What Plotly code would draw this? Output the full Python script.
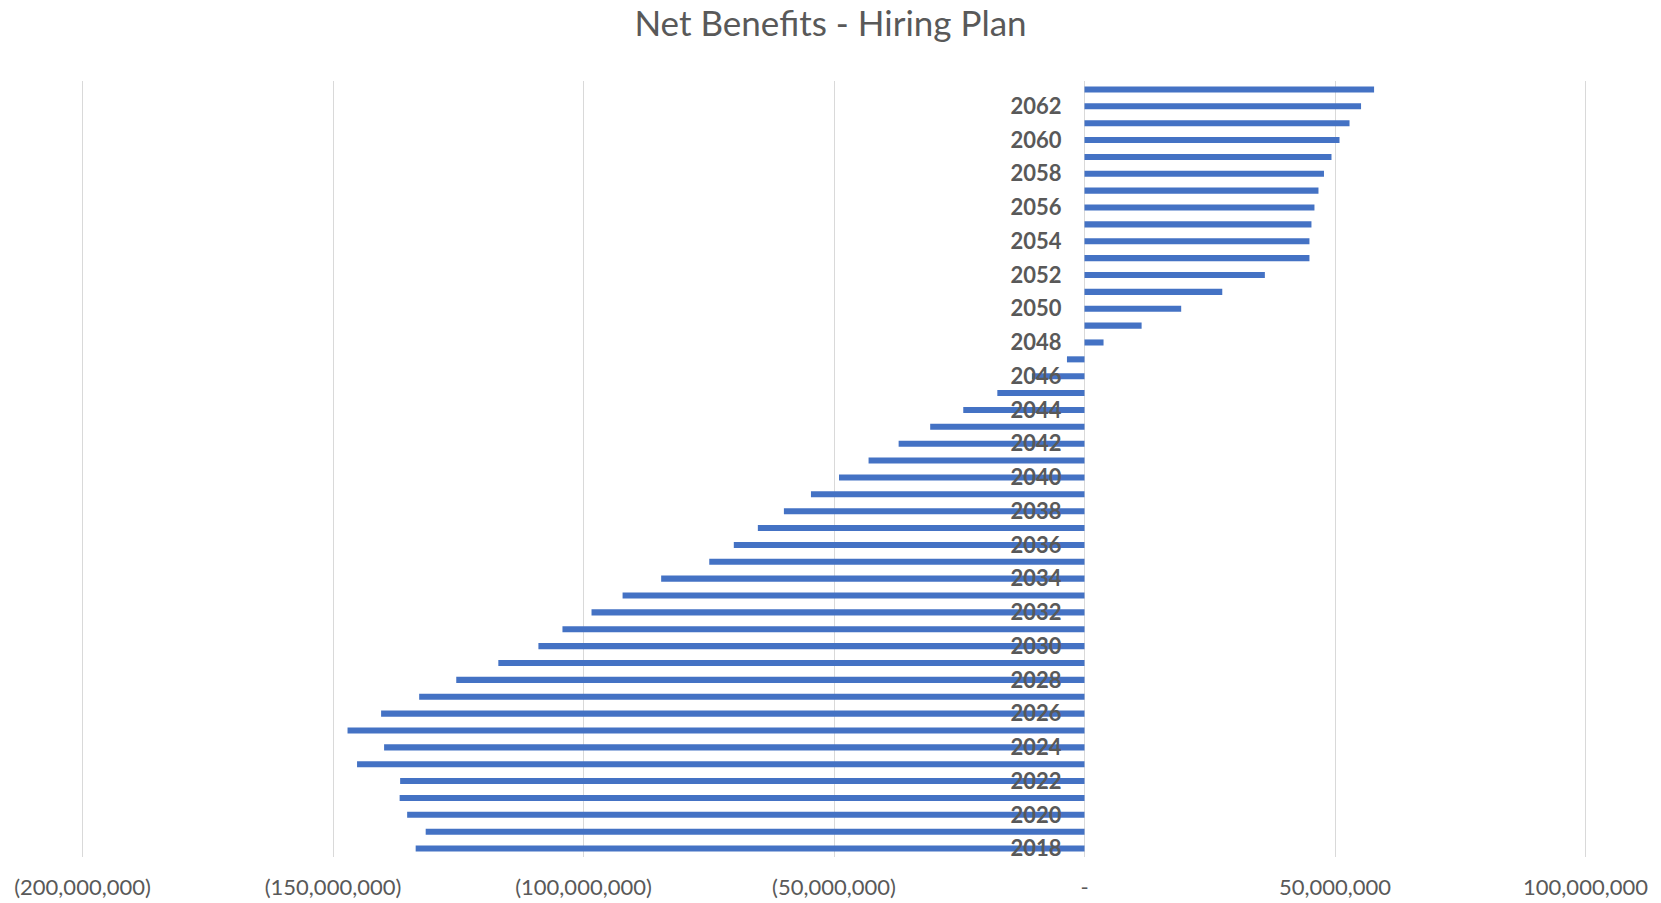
import plotly.graph_objects as go

years = list(range(2018, 2064))
net_benefits = [
    -133.5e6, -131.5e6, -135.2e6, -136.7e6, -136.6e6, -145.2e6, -139.8e6, -147.1e6,
    -140.4e6, -132.8e6, -125.4e6, -117.0e6, -109.0e6, -104.2e6, -98.4e6, -92.2e6,
    -84.5e6, -74.9e6, -70.0e6, -65.2e6, -60.0e6, -54.6e6, -49.0e6, -43.1e6,
    -37.1e6, -30.8e6, -24.2e6, -17.4e6, -10.5e6, -3.5e6, 3.8e6, 11.4e6,
    19.3e6, 27.5e6, 36.0e6, 44.9e6, 44.9e6, 45.3e6, 45.9e6, 46.7e6,
    47.8e6, 49.3e6, 50.9e6, 52.9e6, 55.2e6, 57.8e6,
]
x_tick_vals = [-200e6, -150e6, -100e6, -50e6, 0, 50e6, 100e6]
x_tick_text = ["(200,000,000)", "(150,000,000)", "(100,000,000)", "(50,000,000)",
               "-", "50,000,000", "100,000,000"]
y_tick_vals = list(range(2018, 2063, 2))
y_tick_text = [str(y) for y in y_tick_vals]

x_min, x_max = -200.3e6, 100.3e6
zero_pos = (0 - x_min) / (x_max - x_min)

fig = go.Figure(go.Bar(
    x=net_benefits, y=years, orientation="h",
    marker=dict(color="#4472C4", line=dict(width=0)),
))

W, H = 1661, 903
fig.update_layout(
    width=W, height=H,
    paper_bgcolor="white", plot_bgcolor="white",
    margin=dict(l=81, r=74, t=81, b=46, autoexpand=False),
    bargap=0.64,
    showlegend=False,
    title=dict(text="Net Benefits - Hiring Plan", x=0.5, xanchor="center",
               y=1 - 23.5 / H, yanchor="middle",
               font=dict(family="Lato", size=35, color="#595959")),
    font=dict(family="Lato", color="#595959"),
    xaxis=dict(range=[x_min, x_max], tickvals=x_tick_vals, ticktext=x_tick_text,
               showgrid=True, gridcolor="#d9d9d9", gridwidth=1.3,
               zeroline=True, zerolinecolor="#d9d9d9", zerolinewidth=1.3,
               showline=False, ticks="", automargin=False,
               tickfont=dict(family="Lato", size=22, color="#595959"),
               ticklabelstandoff=15, domain=[0, 1]),
    yaxis=dict(range=[2017.5, 2063.5], tickvals=y_tick_vals, ticktext=y_tick_text,
               showgrid=False, zeroline=False, showline=False, ticks="",
               anchor="free", position=zero_pos, automargin=False,
               ticklabelstandoff=23,
               tickfont=dict(family="Lato", size=22, color="#595959", weight="bold")),
)

fig.write_html("out.html", config={"displayModeBar": False},
               post_script="document.body.style.margin='0';")
